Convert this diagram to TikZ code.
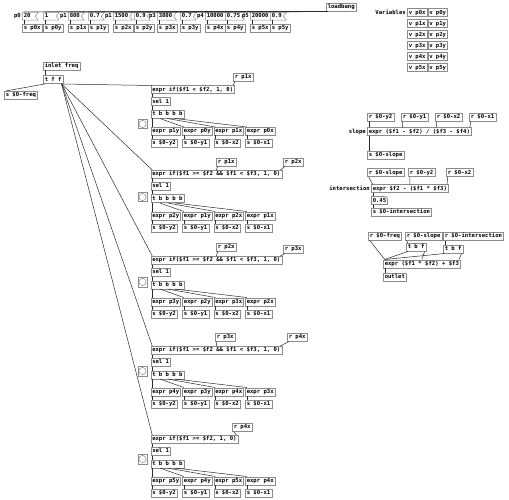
\documentclass[tikz,border=0pt]{standalone}
\usepackage{fontspec}
\usepackage{tikz}
\usetikzlibrary{calc,positioning,shapes.symbols}
\newfontfamily\pdmono{DejaVu Sans Mono}
\newcommand\pdtext{\pdmono\bfseries\fontsize{5.6pt}{6pt}\selectfont}
\definecolor{boxgray}{HTML}{8C8C8C}
\definecolor{wireblack}{HTML}{2B2B2B}
\tikzset{
  pdbox/.style={draw=boxgray,line width=0.5pt,fill=white,font=\pdtext,anchor=north west,
    inner xsep=1.5pt,inner ysep=1.2pt,text height=4.3pt,text depth=1.3pt,
    path picture={
      \fill (path picture bounding box.north west) rectangle ++(3.5,1.4);
      \fill (path picture bounding box.south west) rectangle ++(3.5,-1.4);}},
  pdsend/.style={pdbox,path picture={
      \fill (path picture bounding box.north west) rectangle ++(3.5,1.4);}},
  pdrecv/.style={pdbox,path picture={
      \fill (path picture bounding box.south west) rectangle ++(3.5,-1.4);}},
  pdmsg/.style={pdbox,shape=signal,signal to=nowhere,signal from=east,signal pointer angle=108},
  pdbang/.style={pdbox,minimum size=9.5pt,inner sep=0pt,path picture={
      \draw[boxgray,line width=0.5pt] (path picture bounding box.center) circle (3.6pt);
      \fill (path picture bounding box.north west) rectangle ++(3.5,1.4);
      \fill (path picture bounding box.south west) rectangle ++(3.5,-1.4);}},
  pdlabel/.style={font=\pdtext,inner xsep=1pt,inner ysep=1.2pt,text height=4.3pt,text depth=1.3pt},
  wire/.style={draw=wireblack,line width=0.5pt,transform canvas={xshift=1.75pt}}
}
\begin{document}
\begin{tikzpicture}[x=1pt,y=-1pt]
\useasboundingbox (0,0) rectangle (509,500);

% init values
\node[pdbox] (lb) at (326,3) {loadbang};
\node[pdmsg,text width=10pt] (m0) at (22,12) {20};
\node[pdmsg,text width=10pt] (m1) at (43,12) {1};
\node[pdmsg] (m2) at (68,12) {800};
\node[pdmsg] (m3) at (88,12) {0.7};
\node[pdmsg] (m4) at (113,12) {1500};
\node[pdmsg] (m5) at (134,12) {0.9};
\node[pdmsg] (m6) at (157,12) {3800};
\node[pdmsg] (m7) at (180,12) {0.7};
\node[pdmsg] (m8) at (205,12) {10000};
\node[pdmsg] (m9) at (225,12) {0.75};
\node[pdmsg] (m10) at (250,12) {20000};
\node[pdmsg] (m11) at (270,12) {0.9};
\node[pdlabel,left=0pt of m0] (lp0) {p0};
\node[pdlabel,left=0pt of m2] (lp1) {p1};
\node[pdlabel,left=0pt of m4] (lp2) {p1};
\node[pdlabel,left=0pt of m6] (lp3) {p3};
\node[pdlabel,left=0pt of m8] (lp4) {p4};
\node[pdlabel,left=0pt of m10] (lp5) {p5};
\foreach \i/\x/\nm in {0/22/p0x,1/43/p0y,2/68/p1x,3/88/p1y,4/113/p2x,5/134/p2y,
    6/157/p3x,7/180/p3y,8/205/p4x,9/225/p4y,10/250/p5x,11/270/p5y}
  \node[pdsend] (s\i) at (\x,24) {s \nm};
\foreach \i in {0,...,11} {
  \draw[wire] (lb.south west) -- (m\i.west |- m\i.north);
  \draw[wire] (m\i.west |- m\i.south) -- (s\i.north west);
}

% variables
\foreach \r/\yy in {0/8.5,1/19.5,2/30.5,3/41.5,4/52.5,5/63.5} {
  \node[pdbox] (vx\r) at (407,\yy) {v p\r x};
  \node[pdbox] (vy\r) at (427.5,\yy) {v p\r y};
}
\node[pdlabel,left=0pt of vx0] (lvars) {Variables};

% segment selection
\node[pdrecv] (inl) at (43,62) {inlet freq};
\node[pdbox] (tff) at (43,75.5) {t f f};
\node[pdsend] (sfreq) at (4,91) {s \$0-freq};
\draw[wire] (inl.south west) -- (tff.north west);
\draw[wire] (tff.south west) -- (sfreq.north west);

\node[pdbox] (e1) at (150.5,85.5) {expr if(\$f1 < \$f2, 1, 0)};
\node[pdbox] (e2) at (150.5,170) {expr if(\$f1 >= \$f2 \&\& \$f1 < \$f3, 1, 0)};
\node[pdbox] (e3) at (150.5,256) {expr if(\$f1 >= \$f2 \&\& \$f1 < \$f3, 1, 0)};
\node[pdbox] (e4) at (150.5,346) {expr if(\$f1 >= \$f2 \&\& \$f1 < \$f3, 1, 0)};
\node[pdbox] (e5) at (150.5,435) {expr if(\$f1 >= \$f2, 1, 0)};
\node[pdrecv] (r1b) at (233,73) {r p1x};
\node[pdrecv] (r2a) at (216,158) {r p1x};
\node[pdrecv] (r2b) at (283,158) {r p2x};
\node[pdrecv] (r3a) at (216,243) {r p2x};
\node[pdrecv] (r3b) at (283,245) {r p3x};
\node[pdrecv] (r4a) at (215,333) {r p3x};
\node[pdrecv] (r4b) at (287,333) {r p4x};
\node[pdrecv] (r5b) at (232,423) {r p4x};
\draw[wire] (r1b.south west) -- ($(e1.north east)+(-3.5,0)$);
\draw[wire] (r5b.south west) -- ($(e5.north east)+(-3.5,0)$);
\foreach \i in {2,3,4} {
  \draw[wire] (r\i a.south west) -- ($(e\i.north west)!0.5!(e\i.north east)+(-1.75,0)$);
  \draw[wire] (r\i b.south west) -- ($(e\i.north east)+(-3.5,0)$);
}

\foreach \i/\ey/\by in {1/85.5/119,2/170/192,3/256/277,4/346/366,5/435/454} {
  \pgfmathtruncatemacro\j{\i-1}
  \node[pdbox] (sel\i) at (150.5,\ey+12) {sel 1};
  \node[pdbox] (t\i) at (150.5,\ey+24.5) {t b b b b};
  \node[pdbang] (bng\i) at (137.5,\by) {};
  \node[pdbox] (xa\i) at (150.5,\ey+41.5) {expr p\i y};
  \node[pdbox] (xb\i) at (182,\ey+41.5) {expr p\j y};
  \node[pdbox] (xc\i) at (213.5,\ey+41.5) {expr p\i x};
  \node[pdbox] (xd\i) at (245,\ey+41.5) {expr p\j x};
  \node[pdsend] (sa\i) at (150.5,\ey+53.5) {s \$0-y2};
  \node[pdsend] (sb\i) at (182,\ey+53.5) {s \$0-y1};
  \node[pdsend] (sc\i) at (213.5,\ey+53.5) {s \$0-x2};
  \node[pdsend] (sd\i) at (245,\ey+53.5) {s \$0-x1};
  \draw[wire] ($(tff.south east)+(-3.5,0)$) -- (e\i.north west);
  \draw[wire] (e\i.south west) -- (sel\i.north west);
  \draw[wire] (sel\i.south west) -- (t\i.north west);
  \foreach \f/\o/\dst in {0/0/xa,0.25/-0.875/xb,0.5/-1.75/xc,0.75/-2.625/xd}
    \draw[wire] ($(t\i.south west)!\f!(t\i.south east)+(\o,0)$) -- (\dst\i.north west);
  \foreach \a/\b in {xa/sa,xb/sb,xc/sc,xd/sd}
    \draw[wire] (\a\i.south west) -- (\b\i.north west);
}

% slope and intersection
\node[pdrecv] (ry2) at (367,113) {r \$0-y2};
\node[pdrecv] (ry1) at (401,113) {r \$0-y1};
\node[pdrecv] (rx2) at (435,113) {r \$0-x2};
\node[pdrecv] (rx1) at (469,113) {r \$0-x1};
\node[pdbox] (eslope) at (367,127.5) {expr (\$f1 - \$f2) / (\$f3 - \$f4)};
\node[pdlabel,left=0pt of eslope] (lslope) {slope};
\node[pdsend] (sslope) at (367,151) {s \$0-slope};
\node[pdrecv] (rslope) at (367,168.5) {r \$0-slope};
\node[pdrecv] (ry2b) at (408,168.5) {r \$0-y2};
\node[pdrecv] (rx2b) at (446,168.5) {r \$0-x2};
\node[pdbox] (einter) at (371,184.5) {expr \$f2 - (\$f1 * \$f3)};
\node[pdlabel,left=0pt of einter] (linter) {intersection};
\node[pdbox,text width=13pt] (num) at (371,196.5) {0.45};
\fill[white] (num.north east) -- ++(-3,0) -- ++(3,3) -- cycle;
\draw[boxgray,line width=0.5pt] ($(num.north east)+(-3,0)$) -- ($(num.north east)+(0,3)$);
\node[pdsend] (sinter) at (371,207.5) {s \$0-intersection};
\draw[wire] (ry2.south west) -- (eslope.north west);
\draw[wire] (ry1.south west) -- ($(eslope.north west)!0.3333!(eslope.north east)+(-1.167,0)$);
\draw[wire] (rx2.south west) -- ($(eslope.north west)!0.6667!(eslope.north east)+(-2.333,0)$);
\draw[wire] (rx1.south west) -- ($(eslope.north east)+(-3.5,0)$);
\draw[wire] (eslope.south west) -- (sslope.north west);
\draw[wire] (rslope.south west) -- (einter.north west);
\draw[wire] (ry2b.south west) -- ($(einter.north west)!0.5!(einter.north east)+(-1.75,0)$);
\draw[wire] (rx2b.south west) -- ($(einter.north east)+(-3.5,0)$);
\draw[wire] (einter.south west) -- (num.north west);
\draw[wire] (num.south west) -- (sinter.north west);

% output
\node[pdrecv] (rfreq) at (368,232) {r \$0-freq};
\node[pdrecv] (rslope2) at (405,232) {r \$0-slope};
\node[pdrecv] (rinter) at (443,232) {r \$0-intersection};
\node[pdbox] (tbf1) at (406,243) {t b f};
\node[pdbox] (tbf2) at (443,245) {t b f};
\node[pdbox] (eout) at (383,259.5) {expr (\$f1 * \$f2) + \$f3};
\node[pdsend] (outl) at (383,273) {outlet};
\draw[wire] (rfreq.south west) -- (eout.north west);
\draw[wire] (rslope2.south west) -- (tbf1.north west);
\draw[wire] (rinter.south west) -- (tbf2.north west);
\draw[wire] (tbf1.south west) -- (eout.north west);
\draw[wire] ($(tbf1.south east)+(-3.5,0)$) -- ($(eout.north west)!0.5!(eout.north east)+(-1.75,0)$);
\draw[wire] (tbf2.south west) -- (eout.north west);
\draw[wire] ($(tbf2.south east)+(-3.5,0)$) -- ($(eout.north east)+(-3.5,0)$);
\draw[wire] (eout.south west) -- (outl.north west);
\end{tikzpicture}
\end{document}
